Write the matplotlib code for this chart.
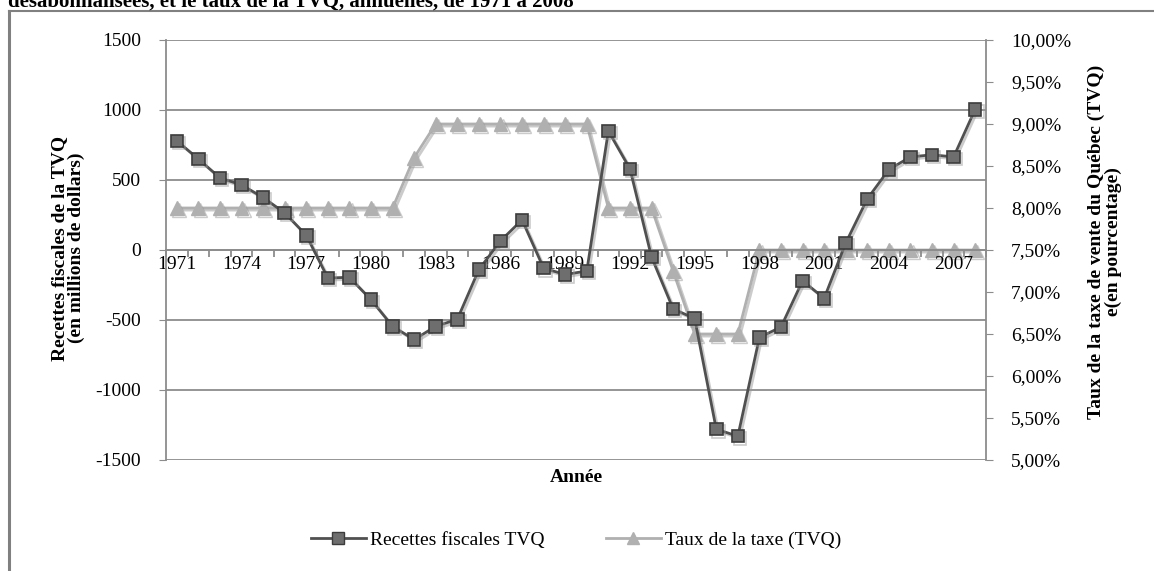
import numpy as np
import matplotlib.pyplot as plt
import matplotlib.patheffects as pe
from matplotlib.lines import Line2D
from matplotlib.ticker import FixedLocator, FuncFormatter

plt.rcParams['font.family'] = ['Liberation Serif', 'DejaVu Serif']
plt.rcParams['axes.unicode_minus'] = False

# Données
annees = list(range(1971, 2009))
recettes = [780, 650, 515, 465, 375, 265, 105, -200, -195, -355,
            -545, -640, -545, -495, -140, 65, 215, -130, -175, -150,
            850, 580, -50, -420, -490, -1280, -1330, -625, -550, -220,
            -345, 50, 365, 575, 665, 680, 665, 1005]
taux = [8.0, 8.0, 8.0, 8.0, 8.0, 8.0, 8.0, 8.0, 8.0, 8.0,
        8.0, 8.6, 9.0, 9.0, 9.0, 9.0, 9.0, 9.0, 9.0, 9.0,
        8.0, 8.0, 8.0, 7.25, 6.5, 6.5, 6.5, 7.5, 7.5, 7.5,
        7.5, 7.5, 7.5, 7.5, 7.5, 7.5, 7.5, 7.5]
etiquettes_x = [str(a) for a in annees[::3]]

W, H = 1154, 571
fig = plt.figure(figsize=(W / 100, H / 100), dpi=100)
ax = fig.add_axes([166 / W, 1 - 460 / H, (986 - 166) / W, 420 / H])
ax2 = ax.twinx()

gris = '#8c8c8c'
x = np.arange(len(annees))
ombre = [pe.SimpleLineShadow(offset=(1.5, -1.5), shadow_color='#999999', alpha=0.5), pe.Normal()]

ax.plot(x, recettes, color='#505050', linewidth=2, marker='s', markersize=9,
        markerfacecolor='#6e6e6e', markeredgecolor='#3c3c3c', markeredgewidth=1.2,
        zorder=3, path_effects=ombre)
ax2.plot(x, taux, color='#b0b0b0', linewidth=2, marker='^', markersize=10,
         markerfacecolor='#b0b0b0', markeredgecolor='#b0b0b0',
         zorder=3, path_effects=ombre)
ax.set_zorder(ax2.get_zorder() + 1)
ax.patch.set_visible(False)

ax.set_xlim(-0.5, len(annees) - 0.5)
ax.set_ylim(-1500, 1500)
ax.set_yticks(np.arange(-1500, 1501, 500))
ax.yaxis.grid(True, color=gris, linewidth=1.3)
ax.tick_params(axis='y', direction='out', length=5, color=gris, labelsize=14, pad=13)

ax.spines['bottom'].set_position(('data', 0))
ax.spines['top'].set_visible(False)
ax.spines['right'].set_visible(False)
for s in ['bottom', 'left']:
    ax.spines[s].set_color(gris)
    ax.spines[s].set_linewidth(1.3)

ax.set_xticks(x[::3])
ax.set_xticklabels(etiquettes_x)
ax.xaxis.set_minor_locator(FixedLocator(np.arange(-0.5, len(annees), 1.0)))
ax.tick_params(axis='x', which='major', length=0, labelsize=14, pad=4)
ax.tick_params(axis='x', which='minor', direction='out', length=5, color=gris, width=1.3)

ax2.set_ylim(5.0, 10.0)
ax2.set_yticks(np.arange(5.0, 10.01, 0.5))
ax2.yaxis.set_major_formatter(FuncFormatter(lambda v, p: f'{v:.2f}'.replace('.', ',') + '%'))
ax2.tick_params(axis='y', direction='out', length=5, color=gris, labelsize=14, pad=13)
for s in ['top', 'bottom', 'left']:
    ax2.spines[s].set_visible(False)
ax2.spines['right'].set_color(gris)
ax2.spines['right'].set_linewidth(1.3)

# Titres des axes
fig.text(68 / W, 1 - 248 / H, 'Recettes fiscales de la TVQ\n(en millions de dollars)',
         rotation=90, ha='center', va='center', fontsize=14, fontweight='bold', linespacing=1.0)
fig.text(1105 / W, 1 - 242 / H, 'Taux de la taxe de vente du Québec (TVQ)\ne(en pourcentage)',
         rotation=90, ha='center', va='center', fontsize=14, fontweight='bold', linespacing=1.0)
fig.text(576 / W, 1 - 477 / H, 'Année', ha='center', va='center', fontsize=14, fontweight='bold')

# Titre coupé en haut (comme dans l'original)
fig.text(8 / W, 1 - 2 / H, 'désabonnalisées, et le taux de la TVQ, annuelles, de 1971 à 2008',
         ha='left', va='center', fontsize=15, fontweight='bold')

# Cadre du graphique
fig.add_artist(Line2D([9 / W, 9 / W], [0, 1 - 11 / H], color='#808080', linewidth=2.2))
fig.add_artist(Line2D([9 / W, 1], [1 - 11 / H, 1 - 11 / H], color='#808080', linewidth=1.5))

# Légende
poignees = [
    Line2D([], [], color='#505050', linewidth=2, marker='s', markersize=8,
           markerfacecolor='#6e6e6e', markeredgecolor='#3c3c3c'),
    Line2D([], [], color='#b0b0b0', linewidth=2, marker='^', markersize=9,
           markerfacecolor='#b0b0b0', markeredgecolor='#b0b0b0'),
]
fig.legend(poignees, ['Recettes fiscales TVQ', 'Taux de la taxe (TVQ)'],
           loc='center', bbox_to_anchor=(576 / W, 1 - 540 / H), ncol=2, frameon=False,
           fontsize=14, handlelength=2.8, handletextpad=0.2, columnspacing=3.2)

fig.savefig('out.png', dpi=100)
